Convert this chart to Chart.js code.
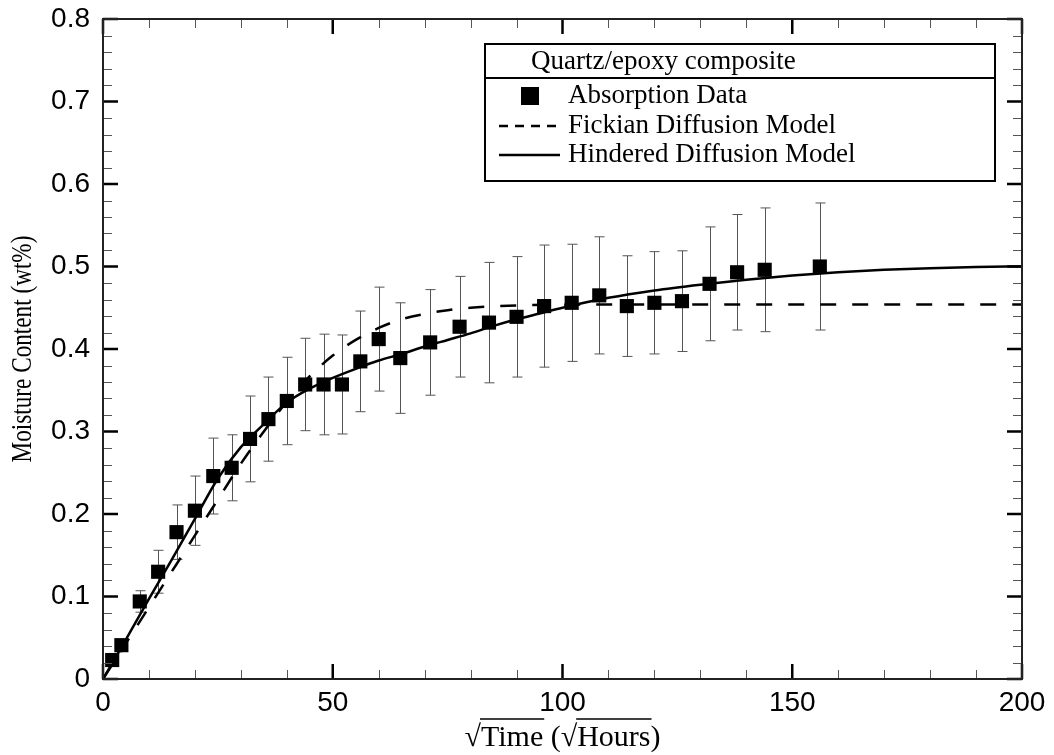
<!DOCTYPE html>
<html>
<head>
<meta charset="utf-8">
<script src="https://cdn.jsdelivr.net/npm/chart.js@4.4.0/dist/chart.umd.min.js"></script>
<style>
  html, body { margin: 0; padding: 0; background: #fff; }
  #wrap { width: 1054px; height: 755px; }
</style>
</head>
<body>
<div id="wrap"><canvas id="myChart" width="1054" height="755"></canvas></div>
<script>
// absorption data (sqrt hours, wt%)
const dataX = [2, 4, 8, 12, 16, 20, 24, 28, 32, 36, 40, 44, 48, 52, 56, 60, 64.7, 71.2, 77.6, 84, 90, 96, 102, 108, 114, 120, 126, 132, 138, 144, 156];
const dataY = [0.023, 0.041, 0.094, 0.130, 0.178, 0.204, 0.246, 0.256, 0.291, 0.315, 0.337, 0.357, 0.357, 0.357, 0.385, 0.412, 0.389, 0.408, 0.427, 0.432, 0.439, 0.452, 0.456, 0.465, 0.452, 0.456, 0.458, 0.479, 0.493, 0.496, 0.500];
const dataErr = [0, 0, 0.013, 0.026, 0.033, 0.042, 0.046, 0.040, 0.052, 0.051, 0.053, 0.056, 0.061, 0.060, 0.061, 0.063, 0.067, 0.064, 0.061, 0.073, 0.073, 0.074, 0.071, 0.071, 0.061, 0.062, 0.061, 0.069, 0.070, 0.075, 0.077];

// fickian diffusion model
const fickX = [0, 5, 10, 15, 20, 25, 30, 35, 40, 45, 50, 55, 60, 65, 70, 75, 80, 90, 100, 120, 150, 200];
const fickY = [0, 0.0435, 0.087, 0.1305, 0.174, 0.2175, 0.261, 0.300, 0.336, 0.367, 0.392, 0.411, 0.4255, 0.436, 0.4425, 0.447, 0.450, 0.4528, 0.4537, 0.454, 0.454, 0.454];

// hindered diffusion model
const hindX = [0, 5, 10, 15, 20, 25, 30, 35, 40, 45, 50, 55, 60, 65, 70, 75, 80, 85, 90, 95, 100, 110, 120, 130, 140, 150, 160, 170, 180, 190, 200];
const hindY = [0, 0.048, 0.097, 0.145, 0.194, 0.243, 0.281, 0.309, 0.335, 0.352, 0.365, 0.376, 0.386, 0.394, 0.403, 0.411, 0.419, 0.428, 0.436, 0.443, 0.450, 0.462, 0.471, 0.478, 0.484, 0.489, 0.493, 0.496, 0.498, 0.4995, 0.500];

const xTicks = [0, 50, 100, 150, 200];
const yTicks = [0, 0.1, 0.2, 0.3, 0.4, 0.5, 0.6, 0.7, 0.8];

const legendTitle = "Quartz/epoxy composite";
const legendNames = ["Absorption Data", "Fickian Diffusion Model", "Hindered Diffusion Model"];

function toPoints(xs, ys) {
    return xs.map((x, i) => ({ x: x, y: ys[i] }));
}

const SERIF = '"Liberation Serif", "Times New Roman", serif';
const SANS = '"Liberation Sans", Arial, sans-serif';

// error bars under the squares
const errorBars = {
    id: 'errorBars',
    beforeDatasetsDraw(chart) {
        const ctx = chart.ctx;
        const xs = chart.scales.x, ys = chart.scales.y;
        ctx.save();
        ctx.strokeStyle = '#555';
        ctx.lineWidth = 1;
        dataX.forEach((x, i) => {
            if (!dataErr[i]) return;
            const px = Math.round(xs.getPixelForValue(x)) + 0.5;
            const top = ys.getPixelForValue(dataY[i] + dataErr[i]);
            const bot = ys.getPixelForValue(dataY[i] - dataErr[i]);
            ctx.beginPath();
            ctx.moveTo(px, top); ctx.lineTo(px, bot);
            ctx.moveTo(px - 5, top); ctx.lineTo(px + 5, top);
            ctx.moveTo(px - 5, bot); ctx.lineTo(px + 5, bot);
            ctx.stroke();
        });
        ctx.restore();
    }
};

// frame, inward ticks, axis titles, legend box
const decorations = {
    id: 'decorations',
    afterDraw(chart) {
        const ctx = chart.ctx;
        const a = chart.chartArea;
        const xs = chart.scales.x, ys = chart.scales.y;
        ctx.save();

        // minor ticks
        ctx.strokeStyle = '#555';
        ctx.lineWidth = 1;
        ctx.beginPath();
        for (let v = 0; v <= 200; v += 10) {
            if (v % 50 === 0) continue;
            const px = Math.round(xs.getPixelForValue(v)) + 0.5;
            ctx.moveTo(px, a.bottom); ctx.lineTo(px, a.bottom - 9);
            ctx.moveTo(px, a.top); ctx.lineTo(px, a.top + 9);
        }
        for (let k = 0; k <= 40; k++) {
            if (k % 5 === 0) continue;
            const py = Math.round(ys.getPixelForValue(k * 0.02)) + 0.5;
            ctx.moveTo(a.left, py); ctx.lineTo(a.left + 9, py);
            ctx.moveTo(a.right, py); ctx.lineTo(a.right - 9, py);
        }
        ctx.stroke();

        // major ticks
        ctx.strokeStyle = '#000';
        ctx.lineWidth = 2.5;
        ctx.beginPath();
        xTicks.forEach(v => {
            const px = xs.getPixelForValue(v);
            ctx.moveTo(px, a.bottom); ctx.lineTo(px, a.bottom - 15);
            ctx.moveTo(px, a.top); ctx.lineTo(px, a.top + 15);
        });
        yTicks.forEach(v => {
            const py = ys.getPixelForValue(v);
            ctx.moveTo(a.left, py); ctx.lineTo(a.left + 15, py);
            ctx.moveTo(a.right, py); ctx.lineTo(a.right - 15, py);
        });
        ctx.stroke();

        // frame
        ctx.strokeStyle = '#222';
        ctx.lineWidth = 2;
        ctx.strokeRect(a.left, a.top, a.right - a.left, a.bottom - a.top);

        // y title (a bit condensed like the original)
        ctx.fillStyle = '#000';
        ctx.save();
        ctx.translate(31, (a.top + a.bottom) / 2);
        ctx.rotate(-Math.PI / 2);
        ctx.scale(0.8, 1);
        ctx.font = '29px ' + SERIF;
        ctx.textAlign = 'center';
        ctx.textBaseline = 'alphabetic';
        ctx.fillText('Moisture Content (wt%)', 0, 0);
        ctx.restore();

        // x title with overlines on the roots
        ctx.font = '30px ' + SERIF;
        ctx.textBaseline = 'alphabetic';
        ctx.textAlign = 'left';
        const parts = ['\u221A', 'Time', ' (', '\u221A', 'Hours', ')'];
        const widths = parts.map(p => ctx.measureText(p).width);
        const total = widths.reduce((s, w) => s + w, 0);
        let cx = (a.left + a.right) / 2 - total / 2;
        const base = 746;
        const over = base - 27;
        ctx.lineWidth = 1.5;
        ctx.strokeStyle = '#000';
        parts.forEach((p, i) => {
            ctx.fillText(p, cx, base);
            if (p === 'Time' || p === 'Hours') {
                ctx.beginPath();
                ctx.moveTo(cx - 1, over); ctx.lineTo(cx + widths[i] + 1, over);
                ctx.stroke();
            }
            cx += widths[i];
        });

        // legend box
        const L = 485, R = 995, T = 44, B = 181, sep = 78;
        ctx.fillStyle = '#fff';
        ctx.fillRect(L, T, R - L, B - T);
        ctx.strokeStyle = '#000';
        ctx.lineWidth = 2;
        ctx.strokeRect(L, T, R - L, B - T);
        ctx.beginPath();
        ctx.moveTo(L, sep); ctx.lineTo(R, sep);
        ctx.stroke();

        ctx.fillStyle = '#000';
        ctx.font = '27px ' + SERIF;
        ctx.textBaseline = 'middle';
        ctx.fillText(legendTitle, 531, 62);

        const rows = [96, 126, 155];
        // square marker
        ctx.fillRect(530 - 9, rows[0] - 9, 18, 18);
        // dashed sample
        ctx.lineWidth = 2.5;
        ctx.setLineDash([9, 7]);
        ctx.beginPath();
        ctx.moveTo(499, rows[1]); ctx.lineTo(560, rows[1]);
        ctx.stroke();
        ctx.setLineDash([]);
        ctx.beginPath();
        ctx.moveTo(499, rows[2]); ctx.lineTo(560, rows[2]);
        ctx.stroke();
        legendNames.forEach((n, i) => ctx.fillText(n, 568, rows[i]));

        ctx.restore();
    }
};

const ctx = document.getElementById("myChart").getContext("2d");
window.currentChart = new Chart(ctx, {
    type: 'scatter',
    data: {
        datasets: [
            {
                label: legendNames[0],
                data: toPoints(dataX, dataY),
                pointStyle: 'rect',
                pointRadius: 10,
                backgroundColor: '#000',
                borderColor: '#000',
                borderWidth: 0,
                order: 0
            },
            {
                label: legendNames[1],
                data: toPoints(fickX, fickY),
                showLine: true,
                pointRadius: 0,
                borderColor: '#000',
                borderWidth: 2.5,
                borderDash: [16, 16],
                cubicInterpolationMode: 'monotone',
                order: 2
            },
            {
                label: legendNames[2],
                data: toPoints(hindX, hindY),
                showLine: true,
                pointRadius: 0,
                borderColor: '#000',
                borderWidth: 2.5,
                cubicInterpolationMode: 'monotone',
                order: 1
            }
        ]
    },
    options: {
        responsive: false,
        animation: false,
        layout: { padding: { top: 19, right: 32, left: 0, bottom: 0 } },
        plugins: {
            legend: { display: false },
            tooltip: { enabled: false }
        },
        scales: {
            x: {
                type: 'linear',
                min: 0, max: 200,
                grid: { display: false, drawTicks: false },
                border: { display: false },
                afterBuildTicks: s => { s.ticks = xTicks.map(v => ({ value: v })); },
                ticks: {
                    padding: 7,
                    color: '#000',
                    font: { family: SANS, size: 28 },
                    maxRotation: 0
                },
                afterFit: s => { s.height = 76; s.paddingLeft = 0; s.paddingRight = 0; }
            },
            y: {
                type: 'linear',
                min: 0, max: 0.8,
                grid: { display: false, drawTicks: false },
                border: { display: false },
                afterBuildTicks: s => { s.ticks = yTicks.map(v => ({ value: v })); },
                ticks: {
                    padding: 13,
                    color: '#000',
                    font: { family: SANS, size: 28 },
                    callback: v => v === 0 ? '0' : v.toFixed(1)
                },
                afterFit: s => { s.width = 103; s.paddingTop = 0; s.paddingBottom = 0; }
            }
        }
    },
    plugins: [errorBars, decorations]
});
</script>
</body>
</html>
